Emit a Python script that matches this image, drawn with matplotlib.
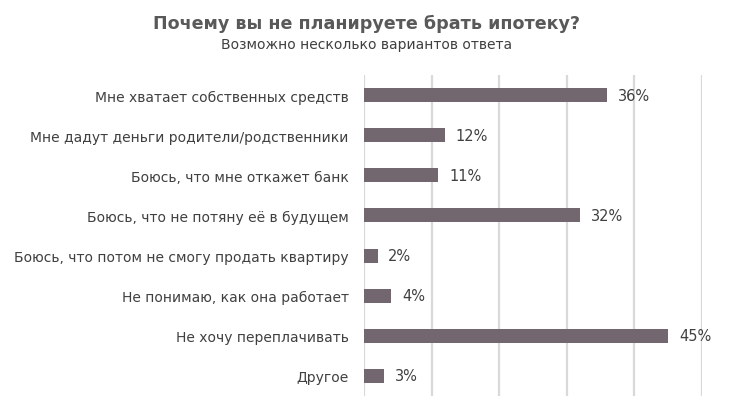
import numpy as np
import matplotlib
matplotlib.use("Agg")
import matplotlib.pyplot as plt

# data
categories = [
    "Мне хватает собственных средств",
    "Мне дадут деньги родители/родственники",
    "Боюсь, что мне откажет банк",
    "Боюсь, что не потяну её в будущем",
    "Боюсь, что потом не смогу продать квартиру",
    "Не понимаю, как она работает",
    "Не хочу переплачивать",
    "Другое",
]
values = [36, 12, 11, 32, 2, 4, 45, 3]
xticks = [0, 10, 20, 30, 40, 50]

title = "Почему вы не планируете брать ипотеку?"
subtitle = "Возможно несколько вариантов ответа"

bar_color = "#73676f"
text_color = "#404040"
grid_color = "#d9d9d9"

plt.rcParams['font.family'] = ['DejaVu Sans']

fig = plt.figure(figsize=(7.33, 4.02), dpi=100)
ax = fig.add_axes([364/733, 1 - 397/402, (702 - 364)/733, (397 - 76)/402])

y = np.arange(len(categories))
ax.barh(y, values, height=0.35, color=bar_color, zorder=3)
for yi, v in zip(y, values):
    ax.text(v + 1.6, yi, f"{v}%", va="center", ha="left",
            fontsize=10.5, color=text_color)

ax.set_ylim(len(categories) - 0.5, -0.5)
ax.set_xlim(0, 50)
ax.set_yticks(y)
ax.set_yticklabels(categories, fontsize=10, color=text_color)
ax.set_xticks(xticks)
ax.xaxis.grid(True, color=grid_color, linewidth=1.6, zorder=0)
ax.tick_params(axis="x", length=0, labelbottom=False)
ax.tick_params(axis="y", length=0, pad=11)
for s in ax.spines.values():
    s.set_visible(False)

fig.text(0.5, 1 - 24/402, title, ha="center", va="center",
         fontsize=12.6, fontweight="bold", color="#595959")
fig.text(0.5, 1 - 45/402, subtitle, ha="center", va="center",
         fontsize=10, color=text_color)

fig.savefig("out.png", dpi=100)
